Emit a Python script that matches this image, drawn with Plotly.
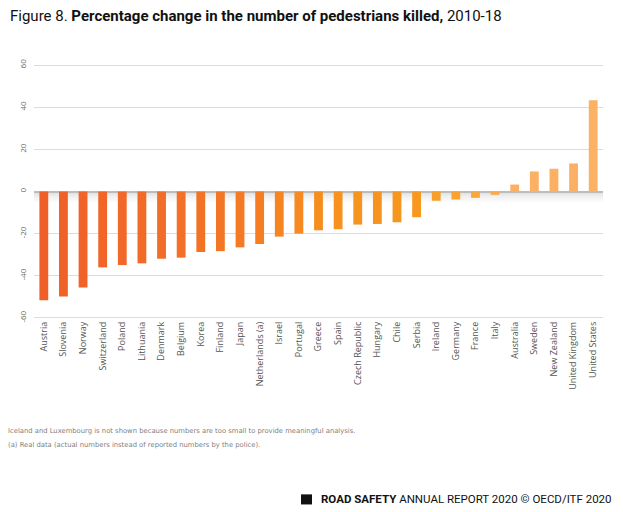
import plotly.graph_objects as go

countries = ["Austria", "Slovenia", "Norway", "Switzerland", "Poland", "Lithuania", "Denmark",
             "Belgium", "Korea", "Finland", "Japan", "Netherlands (a)", "Israel", "Portugal",
             "Greece", "Spain", "Czech Republic", "Hungary", "Chile", "Serbia", "Ireland",
             "Germany", "France", "Italy", "Australia", "Sweden", "New Zealand",
             "United Kingdom", "United States"]
values = [-51.6, -49.8, -45.5, -36.0, -34.9, -34.1, -31.9, -31.4, -28.7, -28.3, -26.5, -24.9,
          -21.4, -20.0, -18.4, -17.9, -15.7, -15.4, -14.6, -12.2, -4.4, -3.8, -3.0, -1.6,
          3.3, 9.5, 10.8, 13.3, 43.3]
bar_colors = ["#F05F28", "#F06128", "#F16328", "#F16528", "#F26828", "#F26A28", "#F26D27",
              "#F37026", "#F37325", "#F37624", "#F47A23", "#F57E22", "#F58421", "#F68A20",
              "#F68E1F", "#F7921F", "#F7941F", "#F7941F", "#F7961F", "#F8981F", "#F89E2A",
              "#F9A232", "#F9A73A", "#FAAB48", "#FBB063", "#FBB063", "#FBB063", "#FBB063",
              "#FBB264"]
y_ticks = [-60, -40, -20, 0, 20, 40, 60]

# page has an 8px body margin: figure origin sits at (8, 8) of the window
OFF = 8
FW, FH = 623 - OFF, 512 - OFF
# plot area geometry (window pixels)
L, R, T, B = 34, 603, 65, 318
W, H = R - L, B - T

fig = go.Figure()
fig.add_trace(go.Bar(
    x=countries, y=values, marker=dict(color=bar_colors, line=dict(width=0)),
    width=0.45,
))

fig.update_layout(
    width=FW, height=FH,
    margin=dict(l=L - OFF, r=623 - R, t=T - OFF - 1, b=512 - B - 1),
    paper_bgcolor="white", plot_bgcolor="white",
    showlegend=False,
    font=dict(family="DejaVu Sans", color="#555555"),
)
fig.update_xaxes(
    tickangle=-90, tickfont=dict(size=9, color="#555555", family="Open Sans"),
    showgrid=False, showline=False, ticks="", range=[-0.5, 28.5], automargin=False,
)
fig.update_yaxes(
    range=[-60.5, 60.5], tickvals=y_ticks, ticktext=[str(v) for v in y_ticks],
    tickangle=-90, tickfont=dict(size=8, color="#666666", family="Open Sans"),
    showgrid=True, gridcolor="#DCDCDC", gridwidth=1,
    zeroline=True, zerolinecolor="#BDBDBD", zerolinewidth=2,
    showline=False, ticks="", ticklabelstandoff=5, automargin=False,
)

def px(x):
    return (x - L) / W

def py(y):
    return (B - y) / H

# soft shadow beneath the zero line
for i, op in enumerate([0.30, 0.22, 0.15, 0.09, 0.05]):
    fig.add_shape(
        type="rect", xref="paper", yref="paper", layer="below",
        x0=0, x1=1, y0=py(192 + 2 * (i + 1)), y1=py(192 + 2 * i),
        fillcolor="#A0A0A0", opacity=op, line=dict(width=0),
    )

fig.add_annotation(
    xref="paper", yref="paper", x=px(8), y=py(17), xanchor="left", yanchor="middle",
    text="Figure 8. <b>Percentage change in the number of pedestrians killed,</b> 2010-18",
    showarrow=False, font=dict(family="Roboto", size=15, color="#111111"),
)
fig.add_annotation(
    xref="paper", yref="paper", x=px(6), y=py(429), xanchor="left", yanchor="middle",
    text="Iceland and Luxembourg is not shown because numbers are too small to provide meaningful analysis.",
    showarrow=False, font=dict(family="DejaVu Sans", size=6.8, color="#808080"),
)
fig.add_annotation(
    xref="paper", yref="paper", x=px(6), y=py(443), xanchor="left", yanchor="middle",
    text="(a) Real data (actual numbers instead of reported numbers by the police).",
    showarrow=False, font=dict(family="DejaVu Sans", size=6.8, color="#808080"),
)
fig.add_annotation(
    xref="paper", yref="paper", x=px(614), y=py(497), xanchor="right", yanchor="middle",
    text="<b>ROAD SAFETY</b> ANNUAL REPORT 2020 © OECD/ITF 2020",
    showarrow=False, font=dict(family="Roboto", size=11.5, color="#111111"),
)
fig.add_shape(
    type="rect", xref="paper", yref="paper",
    x0=px(301), x1=px(312), y0=py(502), y1=py(492),
    fillcolor="#111111", line=dict(width=0),
)

fig.write_html("out.html")
